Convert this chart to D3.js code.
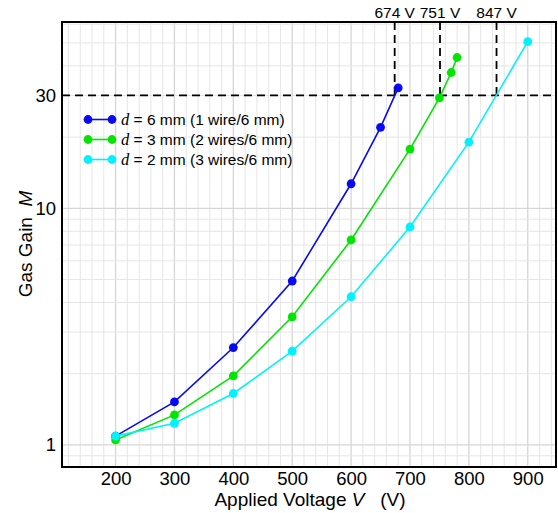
<!DOCTYPE html>
<html><head><meta charset="utf-8">
<script src="https://cdn.jsdelivr.net/npm/d3@7"></script>
<style>
body{margin:0;background:#fff;}
svg{display:block;font-family:"Liberation Sans",Arial,Helvetica,sans-serif;}
</style></head>
<body><svg id="chart" width="558" height="513"></svg>
<script>
// ---- data ----
const seriesNames = ["6 mm (1 wire/6 mm)", "3 mm (2 wires/6 mm)", "2 mm (3 wires/6 mm)"];
const seriesColors = ["#0a0af0", "#00e600", "#00f2ff"];
const voltsBlue = [200, 300, 400, 500, 600, 650, 680];
const gainBlue  = [1.09, 1.52, 2.58, 4.93, 12.7, 22.0, 32.3];
const voltsGreen = [200, 300, 400, 500, 600, 700, 750, 770, 780];
const gainGreen  = [1.05, 1.34, 1.96, 3.48, 7.35, 17.8, 29.3, 37.5, 43.4];
const voltsCyan = [200, 300, 400, 500, 600, 700, 800, 900];
const gainCyan  = [1.09, 1.235, 1.65, 2.49, 4.23, 8.34, 19.05, 50.6];
const thresholdGain = 30;
const crossVolts = [674, 751, 847];
const xTicks = [200, 300, 400, 500, 600, 700, 800, 900];
const yTicks = [1, 10, 30];
const xDomain = [109, 948];
const yDomain = [0.807, 61.3];

const series = [
  {name: seriesNames[0], color: seriesColors[0], v: voltsBlue, g: gainBlue},
  {name: seriesNames[1], color: seriesColors[1], v: voltsGreen, g: gainGreen},
  {name: seriesNames[2], color: seriesColors[2], v: voltsCyan, g: gainCyan}
];

const svg = d3.select("#chart");
const L = 62, T = 22, R = 556, B = 467;
const x = d3.scaleLinear().domain(xDomain).range([L, R]);
const y = d3.scaleLog().domain(yDomain).range([B, T]);

// grid
const g = svg.append("g");
const vGrid = d3.range(120, 941, 20);
g.selectAll(".vg").data(vGrid).join("line")
  .attr("x1", d => x(d)).attr("x2", d => x(d)).attr("y1", T).attr("y2", B)
  .attr("stroke", d => d % 100 === 0 ? "#d6d6d6" : "#e6e6e6").attr("stroke-width", d => d % 100 === 0 ? 1.3 : 1);
const hGrid = [0.9,1,2,3,4,5,6,7,8,9,10,20,30,40,50,60];
g.selectAll(".hg").data(hGrid).join("line")
  .attr("x1", L).attr("x2", R).attr("y1", d => y(d)).attr("y2", d => y(d))
  .attr("stroke", d => (d === 1 || d === 10) ? "#d6d6d6" : "#e6e6e6").attr("stroke-width", d => (d === 1 || d === 10) ? 1.3 : 1);

// threshold dashed lines
svg.append("line").attr("x1", L).attr("x2", R).attr("y1", y(thresholdGain)).attr("y2", y(thresholdGain))
  .attr("stroke", "#000").attr("stroke-width", 1.8).attr("stroke-dasharray", "8,5");
svg.selectAll(".vd").data(crossVolts).join("line")
  .attr("x1", d => x(d)).attr("x2", d => x(d)).attr("y1", T).attr("y2", y(thresholdGain))
  .attr("stroke", "#000").attr("stroke-width", 1.8).attr("stroke-dasharray", "8,5");
svg.selectAll(".vt").data(crossVolts).join("text")
  .attr("x", d => x(d)).attr("y", 18).attr("text-anchor", "middle")
  .attr("font-size", 15.5).text(d => d + " V");

// series
const line = d3.line().x(d => x(d[0])).y(d => y(d[1]));
series.forEach(s => {
  const pts = s.v.map((v, i) => [v, s.g[i]]);
  svg.append("path").attr("d", line(pts)).attr("fill", "none")
    .attr("stroke", s.color).attr("stroke-width", 1.6);
  svg.selectAll(null).data(pts).join("circle")
    .attr("cx", d => x(d[0])).attr("cy", d => y(d[1])).attr("r", 4.4).attr("fill", s.color);
});

// frame
svg.append("rect").attr("x", L).attr("y", T).attr("width", R - L).attr("height", B - T)
  .attr("fill", "none").attr("stroke", "#000").attr("stroke-width", 2);

// axes labels
const xAxis = d3.axisBottom(x).tickValues(xTicks).tickSize(0).tickPadding(5);
const xa = svg.append("g").attr("transform", `translate(0,${B})`).call(xAxis);
xa.select(".domain").remove();
xa.selectAll("text").attr("font-size", 18.5).attr("fill", "#000").attr("font-family", "Liberation Sans, Arial, sans-serif");
const yAxis = d3.axisLeft(y).tickValues(yTicks).tickFormat(d3.format("d")).tickSize(0).tickPadding(6);
const ya = svg.append("g").attr("transform", `translate(${L},0)`).call(yAxis);
ya.select(".domain").remove();
ya.selectAll("text").attr("font-size", 18.5).attr("fill", "#000").attr("font-family", "Liberation Sans, Arial, sans-serif");

const xt = svg.append("text").attr("x", 310).attr("y", 506).attr("text-anchor", "middle").attr("font-size", 19)
  .text("Applied Voltage ");
xt.append("tspan").attr("font-style", "italic").text("V");
xt.append("tspan").text("\u00a0\u00a0\u00a0(V)");

const yt = svg.append("text").attr("transform", "translate(31.5,244) rotate(-90)").attr("text-anchor", "middle").attr("font-size", 19)
  .text("Gas Gain\u00a0\u00a0");
yt.append("tspan").attr("font-style", "italic").text("M");

// legend
const legY = [119.5, 139.5, 159.5];
series.forEach((s, i) => {
  const lg = svg.append("g");
  lg.append("line").attr("x1", 88).attr("x2", 112).attr("y1", legY[i]).attr("y2", legY[i])
    .attr("stroke", s.color).attr("stroke-width", 1.6);
  lg.append("circle").attr("cx", 88).attr("cy", legY[i]).attr("r", 4.4).attr("fill", s.color);
  lg.append("circle").attr("cx", 112).attr("cy", legY[i]).attr("r", 4.4).attr("fill", s.color);
  const t = lg.append("text").attr("x", 121).attr("y", legY[i] + 5.5).attr("font-size", 15.5);
  t.append("tspan").attr("font-family", "Liberation Serif, Times New Roman, serif").attr("font-style", "italic").attr("font-size", 16.5).text("d");
  t.append("tspan").text(" = " + s.name);
});
</script></body></html>
